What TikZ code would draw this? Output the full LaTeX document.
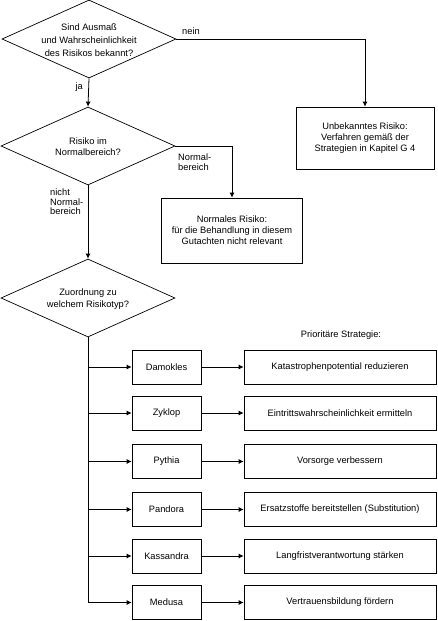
\documentclass[tikz,border=0pt]{standalone}
\usepackage{fontspec}
\setmainfont{Liberation Sans}
\usetikzlibrary{shapes.geometric,arrows.meta}
\begin{document}
\begin{tikzpicture}[x=1pt,y=-1pt,
  every node/.style={font=\fontsize{9.3}{11}\selectfont},
  dia/.style={draw,diamond,minimum width=174pt,minimum height=78pt,inner sep=0pt,line width=0.7pt},
  txt/.style={inner sep=0pt,align=center},
  box/.style={draw,rectangle,inner sep=0pt,align=center,line width=0.7pt},
  conn/.style={line width=0.8pt},
  arr/.style={conn,-{Latex[length=5pt,width=5pt]}},
  lbl/.style={inner sep=0pt,align=left,font=\fontsize{9.3}{9.5}\selectfont}]
\useasboundingbox (0,0) rectangle (437,621);
\fill[white] (0,0) rectangle (437,621);
% decisions
\node[dia] (d1) at (89,39) {};
\node[txt,font=\fontsize{9.3}{13}\selectfont] (d1t) at (89,40) {Sind Ausmaß\\und Wahrscheinlichkeit\\des Risikos bekannt?};
\node[dia] (d2) at (88,146) {};
\node[txt,font=\fontsize{9.3}{11}\selectfont] (d2t) at (88,147) {Risiko im\\Normalbereich?};
\node[dia] (d3) at (88,298) {};
\node[txt,font=\fontsize{9.3}{12}\selectfont] (d3t) at (88,299) {Zuordnung zu\\welchem Risikotyp?};
% outcome boxes
\node[box,minimum width=138pt,minimum height=62pt] (b1) at (365,138) {Unbekanntes Risiko:\\Verfahren gemäß der\\Strategien in Kapitel G 4};
\node[box,minimum width=141pt,minimum height=65pt] (b2) at (232,230.5) {Normales Risiko:\\für die Behandlung in diesem\\Gutachten nicht relevant};
% connectors top
\draw[arr] (d1.east) -| (b1.north);
\draw[arr] (d1.south) -- (d2.north);
\draw[arr] (d2.east) -| (b2.north);
\draw[arr] (d2.south) -- (d3.north);
\node[lbl] (lnein) at (191,31) {nein};
\node[lbl,anchor=east] (lja) at (83,87) {ja};
\node[lbl,anchor=west] (lnorm) at (178,162) {Normal-\\bereich};
\node[lbl,anchor=west] (lnicht) at (50,202) {nicht\\Normal-\\bereich};
\node[lbl] (lprio) at (341,335) {Prioritäre Strategie:};
% types and strategies
\foreach \n/\t/\s/\y in {1/Damokles/Katastrophenpotential reduzieren/367,
                        2/Zyklop/Eintrittswahrscheinlichkeit ermitteln/413,
                        3/Pythia/Vorsorge verbessern/461.5,
                        4/Pandora/Ersatzstoffe bereitstellen (Substitution)/509.5,
                        5/Kassandra/Langfristverantwortung stärken/556,
                        6/Medusa/Vertrauensbildung fördern/602.5}{
  \node[box,minimum width=69pt,minimum height=34pt] (t\n) at (166.5,\y) {\t};
  \node[box,minimum width=192pt,minimum height=34pt] (s\n) at (340,\y) {\s};
  \coordinate (j\n) at (88,\y);
  \draw[arr] (j\n) -- (t\n.west);
  \draw[arr] (t\n.east) -- (s\n.west);
}
\draw[conn] (d3.south) -- (j6);
\end{tikzpicture}
\end{document}
